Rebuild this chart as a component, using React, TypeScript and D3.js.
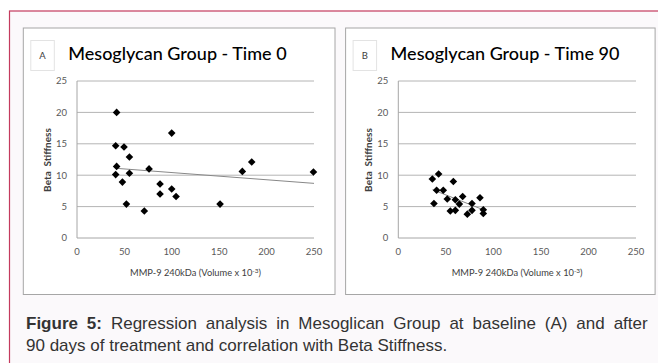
import React from 'react';
import * as d3 from 'd3';

// ---- data ----
const xTicks = [0, 50, 100, 150, 200, 250];
const yTicks = [0, 5, 10, 15, 20, 25];

const mmpA = [41.8, 40.8, 49.6, 41.8, 40.8, 47.9, 55.3, 55.3, 52.1, 71, 76, 87.6, 87.6, 99.9, 99.9, 104.5, 150.9, 174.4, 184.3, 249.4];
const betaA = [20.0, 14.7, 14.5, 11.4, 10.1, 8.9, 12.9, 10.3, 5.4, 4.3, 11.0, 8.6, 7.0, 16.7, 7.8, 6.6, 5.4, 10.6, 12.1, 10.5];
const trendAx = [40.8, 250];
const trendAy = [11.1, 8.7];

const mmpB = [35.8, 42.4, 37.5, 40.3, 47.3, 51.5, 57.9, 54.7, 60, 60, 64.2, 67.7, 72.6, 77.5, 77.5, 85.9, 89.4, 89.4];
const betaB = [9.4, 10.2, 5.5, 7.6, 7.6, 6.2, 9.0, 4.3, 6.1, 4.4, 5.4, 6.6, 3.8, 5.5, 4.4, 6.4, 4.5, 3.9];
const trendBx = [36, 89.4];
const trendBy = [7.7, 4.5];

const titles = ['Mesoglycan Group - Time 0', 'Mesoglycan Group - Time 90'];
const labels = ['A', 'B'];
const xTitle = 'MMP-9 240kDa (Volume x 10';
const yTitle = 'Beta  Stiffness';

const FONT = 'Lato, "Open Sans", sans-serif';

type PanelProps = {
  px: number; pw: number;
  plotL: number; plotR: number;
  label: string; title: string;
  xs: number[]; ys: number[];
  tx: number[]; ty: number[];
};

function Panel({ px, pw, plotL, plotR, label, title, xs, ys, tx, ty }: PanelProps) {
  const top = 28, bottom = 294.5;
  const x = d3.scaleLinear().domain([0, 250]).range([plotL, plotR]);
  const y = d3.scaleLinear().domain([0, 25]).range([238, 81]);
  const diamond = d3.symbol(d3.symbolSquare, 29)();
  const line = d3.line<[number, number]>().x(d => x(d[0])).y(d => y(d[1]));
  const trend: [number, number][] = tx.map((v, i) => [v, ty[i]]);
  const cx = (plotL + plotR) / 2;
  return (
    <g>
      <rect x={px} y={top} width={pw} height={bottom - top} fill="#fff" stroke="#a6a6a6" strokeWidth={1} />
      <rect x={px + 7.5} y={40.5} width={23.5} height={30} fill="#fff" stroke="#e3e3e3" strokeWidth={1} />
      <text x={px + 19.25} y={59} fontFamily={FONT} fontSize={9.5} fill="#404040" textAnchor="middle">{label}</text>
      <text x={px + 45} y={60} fontFamily={FONT} fontSize={18} fill="#000" fontWeight={500}>{title}</text>
      {yTicks.filter(t => t > 0).map(t => (
        <line key={t} x1={plotL} x2={plotR} y1={y(t)} y2={y(t)} stroke="#b4b4b4" strokeWidth={1} />
      ))}
      <line x1={plotL} x2={plotL} y1={y(25)} y2={y(0)} stroke="#a6a6a6" strokeWidth={1} />
      <line x1={plotL} x2={plotR} y1={y(0)} y2={y(0)} stroke="#a6a6a6" strokeWidth={1} />
      {yTicks.map(t => (
        <text key={t} x={plotL - 10} y={y(t) + 3.3} fontFamily={FONT} fontSize={9.5} fill="#595959" textAnchor="end">{t}</text>
      ))}
      {xTicks.map(t => (
        <text key={t} x={x(t)} y={255} fontFamily={FONT} fontSize={9.5} fill="#595959" textAnchor="middle">{t}</text>
      ))}
      <text x={cx} y={276} fontFamily={FONT} fontSize={9.3} fill="#404040" textAnchor="middle">
        {xTitle}<tspan dy={-3.5} fontSize={6.5}>-3</tspan><tspan dy={3.5}>)</tspan>
      </text>
      <text transform={`translate(${plotL - 26.5},160) rotate(-90)`} fontFamily={FONT} fontSize={10} fontWeight={700} fill="#404040" textAnchor="middle" style={{ whiteSpace: 'pre' }}>{yTitle}</text>
      <path d={line(trend) || ''} fill="none" stroke="#888" strokeWidth={1} />
      {xs.map((v, i) => (
        <path key={i} d={diamond || ''} transform={`translate(${x(v)},${y(ys[i])}) rotate(45)`} fill="#000" />
      ))}
    </g>
  );
}

export default function App() {
  return (
    <svg width={658} height={363} style={{ position: 'absolute', left: 0, top: 0 }}>
      <rect x={0} y={0} width={658} height={363} fill="#fff" />
      <rect x={9.5} y={11} width={660} height={360} fill="#fbf9fb" stroke="#c43a5e" strokeWidth={1.2} />
      <Panel px={23.3} pw={311.7} plotL={77} plotR={314} label={labels[0]} title={titles[0]}
        xs={mmpA} ys={betaA} tx={trendAx} ty={trendAy} />
      <Panel px={345.6} pw={309.5} plotL={398.3} plotR={636} label={labels[1]} title={titles[1]}
        xs={mmpB} ys={betaB} tx={trendBx} ty={trendBy} />
      <text x={26} y={329} fontFamily='"Liberation Sans", Arial, sans-serif' fontSize={17} fill="#333" wordSpacing={4.2} style={{ whiteSpace: 'pre' }}>
        <tspan fontWeight={700}>Figure 5:</tspan> Regression analysis in Mesoglican Group at baseline (A) and after
      </text>
      <text x={26} y={351} fontFamily='"Liberation Sans", Arial, sans-serif' fontSize={17} fill="#333">
        90 days of treatment and correlation with Beta Stiffness.
      </text>
    </svg>
  );
}
